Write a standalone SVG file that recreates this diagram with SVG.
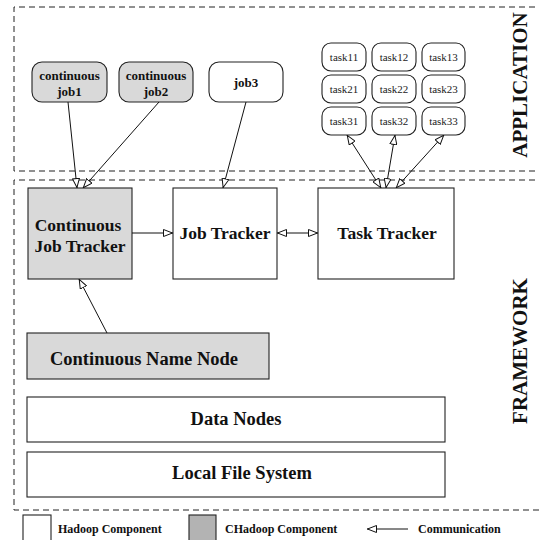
<svg xmlns="http://www.w3.org/2000/svg" width="539" height="540" viewBox="0 0 539 540">
<defs>
<style>
.box{stroke:#222;stroke-width:1.1;fill:#fff}
.gray{fill:#d9d9d9}
.dash{fill:none;stroke:#222;stroke-width:1;stroke-dasharray:6,4}
.t{font-family:"Liberation Serif","Times New Roman",serif;font-weight:bold;fill:#111;text-anchor:middle}
.n{font-family:"Liberation Serif","Times New Roman",serif;fill:#222;text-anchor:middle;font-size:11px}
.c line{stroke:#111;stroke-width:1}
</style>
<marker id="ah" viewBox="0 0 10 8" refX="10" refY="4" markerWidth="10" markerHeight="8" markerUnits="userSpaceOnUse" orient="auto-start-reverse">
<path d="M0.5,0.5 L9.5,4 L0.5,7.5 z" fill="#fff" stroke="#111" stroke-width="1"/>
</marker>
</defs>
<rect width="539" height="540" fill="#fff"/>
<g id="application-region">
<path class="dash" d="M545,7 H14 V171 H545"/>
<text class="t" font-size="21" transform="translate(527,85) rotate(-90)">APPLICATION</text>
</g>
<g id="framework-region">
<path class="dash" d="M545,180 H14 V510 H545"/>
<text class="t" font-size="21" transform="translate(527,351) rotate(-90)">FRAMEWORK</text>
</g>
<g id="job1"><rect class="box gray" x="32" y="62" width="75" height="40" rx="10"/><text class="t" font-size="13" x="69.5" y="80">continuous</text><text class="t" font-size="13" x="69.5" y="96">job1</text></g>
<g id="job2"><rect class="box gray" x="119" y="62" width="74" height="40" rx="10"/><text class="t" font-size="13" x="156" y="80">continuous</text><text class="t" font-size="13" x="156" y="96">job2</text></g>
<g id="job3"><rect class="box" x="209" y="62" width="74" height="40" rx="10"/><text class="t" font-size="13" x="246" y="87">job3</text></g>
<g id="task11"><rect class="box" x="322" y="43" width="44" height="28" rx="9"/><text class="n" x="344" y="61">task11</text></g>
<g id="task12"><rect class="box" x="372" y="43" width="44" height="28" rx="9"/><text class="n" x="394" y="61">task12</text></g>
<g id="task13"><rect class="box" x="422" y="43" width="43" height="28" rx="9"/><text class="n" x="443.5" y="61">task13</text></g>
<g id="task21"><rect class="box" x="322" y="75" width="44" height="28" rx="9"/><text class="n" x="344" y="93">task21</text></g>
<g id="task22"><rect class="box" x="372" y="75" width="44" height="28" rx="9"/><text class="n" x="394" y="93">task22</text></g>
<g id="task23"><rect class="box" x="422" y="75" width="43" height="28" rx="9"/><text class="n" x="443.5" y="93">task23</text></g>
<g id="task31"><rect class="box" x="322" y="107" width="44" height="28" rx="9"/><text class="n" x="344" y="125">task31</text></g>
<g id="task32"><rect class="box" x="372" y="107" width="44" height="28" rx="9"/><text class="n" x="394" y="125">task32</text></g>
<g id="task33"><rect class="box" x="422" y="107" width="43" height="28" rx="9"/><text class="n" x="443.5" y="125">task33</text></g>
<g id="continuous-job-tracker"><rect class="box gray" x="28" y="188" width="104" height="91"/><text class="t" font-size="17.5" x="78" y="231">Continuous</text><text class="t" font-size="17.5" x="80" y="252">Job Tracker</text></g>
<g id="job-tracker"><rect class="box" x="173" y="188" width="104" height="91"/><text class="t" font-size="17.5" x="225" y="239">Job Tracker</text></g>
<g id="task-tracker"><rect class="box" x="318" y="188" width="136" height="91"/><text class="t" font-size="17.5" x="387" y="239">Task Tracker</text></g>
<g id="continuous-name-node"><rect class="box gray" x="27" y="333" width="242" height="46"/><text class="t" font-size="18.5" x="144" y="365">Continuous Name Node</text></g>
<g id="data-nodes"><rect class="box" x="27" y="397" width="418" height="45"/><text class="t" font-size="18.5" x="236" y="425">Data Nodes</text></g>
<g id="local-file-system"><rect class="box" x="27" y="452" width="418" height="45"/><text class="t" font-size="18.5" x="242" y="479">Local File System</text></g>
<g id="connectors" class="c">
<line x1="68" y1="102" x2="77" y2="188" marker-end="url(#ah)"/>
<line x1="159" y1="102" x2="83" y2="188" marker-end="url(#ah)"/>
<line x1="246" y1="102" x2="223" y2="188" marker-end="url(#ah)"/>
<line x1="347" y1="135" x2="381" y2="188" marker-start="url(#ah)" marker-end="url(#ah)"/>
<line x1="395" y1="135" x2="386" y2="188" marker-start="url(#ah)" marker-end="url(#ah)"/>
<line x1="444" y1="135" x2="396" y2="188" marker-start="url(#ah)" marker-end="url(#ah)"/>
<line x1="132" y1="233" x2="173" y2="233" marker-end="url(#ah)"/>
<line x1="277" y1="233" x2="318" y2="233" marker-start="url(#ah)" marker-end="url(#ah)"/>
<line x1="107" y1="333" x2="79" y2="279" marker-end="url(#ah)"/>
</g>
<g id="legend">
<rect class="box" x="23" y="515" width="28" height="30"/>
<text class="t" font-size="12" x="58" y="533" text-anchor="start" style="text-anchor:start">Hadoop Component</text>
<rect class="box" x="189" y="515" width="27" height="30" fill="#b3b3b3" style="fill:#b3b3b3"/>
<text class="t" font-size="12" x="225" y="533" style="text-anchor:start">CHadoop Component</text>
<g class="c"><line x1="408" y1="529" x2="367" y2="529" marker-end="url(#ah)"/></g>
<text class="t" font-size="12" x="418" y="533" style="text-anchor:start">Communication</text>
</g>
</svg>
